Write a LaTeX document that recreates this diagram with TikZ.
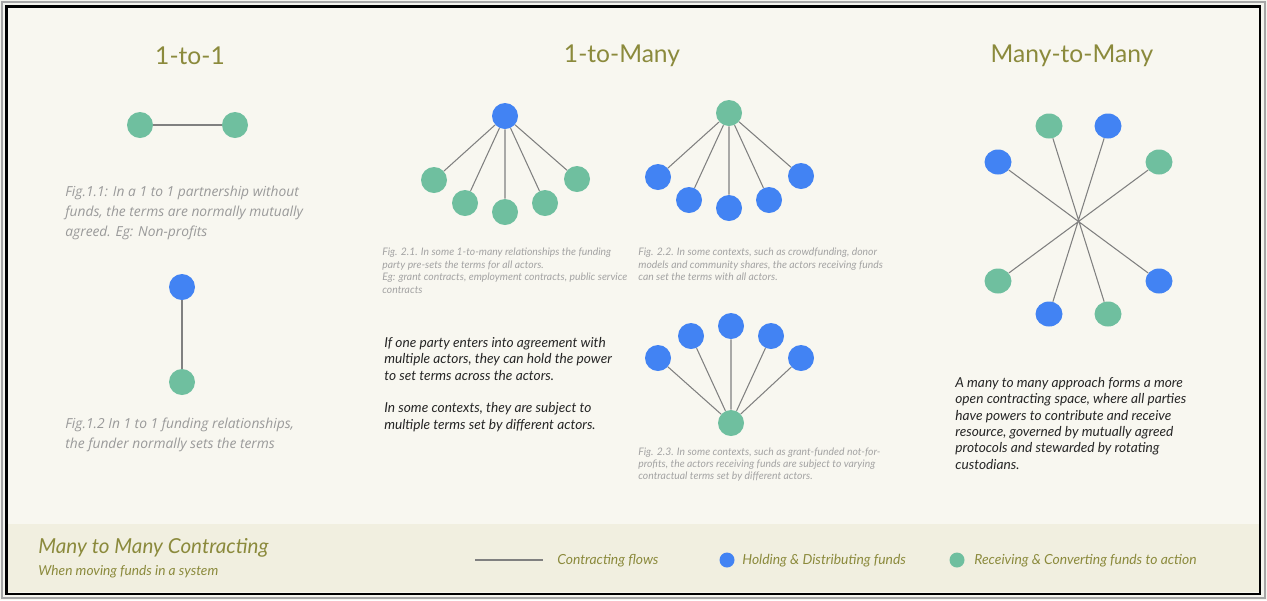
\documentclass[tikz,border=0pt]{standalone}
\usepackage{fontspec}
\setmainfont{Lato}
\newfontfamily\capfont{Open Sans}
\usetikzlibrary{positioning}
\usetikzlibrary{shapes.geometric}

\definecolor{pagecol}{HTML}{F4F4EE}
\definecolor{bgcol}{HTML}{F8F7F0}
\definecolor{bandcol}{HTML}{F1EFE0}
\definecolor{titlecol}{HTML}{8B8A3C}
\definecolor{fundblue}{HTML}{4283F3}
\definecolor{fundgreen}{HTML}{6FBF9F}
\definecolor{flowcol}{HTML}{808080}
\definecolor{capcol}{HTML}{9A9A9A}
\definecolor{notecol}{HTML}{A3A3A3}

\tikzset{
  hold/.style={circle, fill=fundblue, inner sep=0pt, minimum size=0.52cm},
  recv/.style={circle, fill=fundgreen, inner sep=0pt, minimum size=0.52cm},
  flow/.style={draw=flowcol, line width=0.6pt},
  title/.style={text=titlecol, font=\fontsize{14}{16}\selectfont},
  figcap/.style={text=capcol, inner sep=0pt, anchor=north west, align=left,
    font=\capfont\itshape\fontsize{7.85}{11.2}\selectfont},
  note/.style={text=notecol, inner sep=0pt, anchor=north west, align=left,
    font=\itshape\fontsize{5.9}{7.1}\selectfont},
  body/.style={text=black!85, inner sep=0pt, anchor=north west, align=left,
    font=\itshape\fontsize{7.8}{9.3}\selectfont},
  legend/.style={text=titlecol, inner sep=0pt, anchor=west,
    font=\itshape\fontsize{7.9}{9}\selectfont}
}

\begin{document}
\begin{tikzpicture}[x=0.02cm, y=-0.02cm]
  \useasboundingbox (0,0) rectangle (1267,600);
  % frame and background
  \fill[pagecol] (0,0) rectangle (1267,600);
  \draw[black!35, line width=0.6pt] (2,2) rectangle (1265,598);
  \fill[bgcol] (7,7) rectangle (1260,594);
  \fill[bandcol] (8,524) rectangle (1259,592);
  \draw[black, line width=1.6pt] (6.5,6.5) rectangle (1260,594);

  % titles
  \node[title] (t1) at (190,56) {1-to-1};
  \node[title] (t2) at (622,56) {1-to-Many};
  \node[title] (t3) at (1072,56) {Many-to-Many};

  % 1-to-1
  \node[recv] (pa) at (140,125) {};
  \node[recv] (pb) at (235,125) {};
  \draw[flow] (pa) -- (pb);
  \node[figcap] (cap11) at (65,186) {Fig.1.1: In a 1 to 1 partnership without\\funds, the terms are normally mutually\\agreed. Eg: Non-profits};

  \node[hold] (fa) at (182,287) {};
  \node[recv] (fb) at (182,382) {};
  \draw[flow] (fa) -- (fb);
  \node[figcap] (cap12) at (65,418) {Fig.1.2 In 1 to 1 funding relationships,\\the funder normally sets the terms};

  % 1-to-many, funder sets terms
  \node[hold] (ha) at (505,116) {};
  \node[recv] (ra1) at (434,180) {};
  \node[recv] (ra2) at (465,203) {};
  \node[recv] (ra3) at (505,212) {};
  \node[recv] (ra4) at (545,203) {};
  \node[recv] (ra5) at (577,179) {};
  \draw[flow] (ha) -- (ra1) (ha) -- (ra2) (ha) -- (ra3) (ha) -- (ra4) (ha) -- (ra5);
  \node[note] (cap21) at (382,248) {Fig. 2.1. In some 1-to-many relationships the funding\\party pre-sets the terms for all actors.\\Eg: grant contracts, employment contracts, public service\\contracts};

  % 1-to-many, receiver sets terms
  \node[recv] (rb) at (729,113) {};
  \node[hold] (hb1) at (658,177) {};
  \node[hold] (hb2) at (689,200) {};
  \node[hold] (hb3) at (729,208) {};
  \node[hold] (hb4) at (769,200) {};
  \node[hold] (hb5) at (801,176) {};
  \draw[flow] (rb) -- (hb1) (rb) -- (hb2) (rb) -- (hb3) (rb) -- (hb4) (rb) -- (hb5);
  \node[note] (cap22) at (638,248) {Fig. 2.2. In some contexts, such as crowdfunding, donor\\models and community shares, the actors receiving funds\\can set the terms with all actors.};

  % many funders to one receiver
  \node[recv] (rc) at (731,423) {};
  \node[hold] (hc1) at (658,358) {};
  \node[hold] (hc2) at (691,336) {};
  \node[hold] (hc3) at (731,326) {};
  \node[hold] (hc4) at (771,336) {};
  \node[hold] (hc5) at (801,358) {};
  \draw[flow] (rc) -- (hc1) (rc) -- (hc2) (rc) -- (hc3) (rc) -- (hc4) (rc) -- (hc5);
  \node[note] (cap23) at (638,447) {Fig. 2.3. In some contexts, such as grant-funded not-for-\\profits, the actors receiving funds are subject to varying\\contractual terms set by different actors.};

  \node[body] (txt2) at (384,337) {If one party enters into agreement with\\multiple actors, they can hold the power\\to set terms across the actors.\\[9.3pt]In some contexts, they are subject to\\multiple terms set by different actors.};

  % many-to-many
  \node[hold, ellipse, minimum width=0.54cm, minimum height=0.5cm] (m1) at (998,162) {};
  \node[recv, ellipse, minimum width=0.54cm, minimum height=0.5cm] (m2) at (1049,126) {};
  \node[hold, ellipse, minimum width=0.54cm, minimum height=0.5cm] (m3) at (1108,126) {};
  \node[recv, ellipse, minimum width=0.54cm, minimum height=0.5cm] (m4) at (1159,162) {};
  \node[hold, ellipse, minimum width=0.54cm, minimum height=0.5cm] (m5) at (1159,281) {};
  \node[recv, ellipse, minimum width=0.54cm, minimum height=0.5cm] (m6) at (1108,314) {};
  \node[hold, ellipse, minimum width=0.54cm, minimum height=0.5cm] (m7) at (1049,314) {};
  \node[recv, ellipse, minimum width=0.54cm, minimum height=0.5cm] (m8) at (998,281) {};
  \draw[flow] (m1) -- (m5) (m2) -- (m6) (m3) -- (m7) (m4) -- (m8);
  \node[body] (txt3) at (955,377) {A many to many approach forms a more\\open contracting space, where all parties\\have powers to contribute and receive\\resource, governed by mutually agreed\\protocols and stewarded by rotating\\custodians.};

  % legend band
  \node[text=titlecol, inner sep=0pt, anchor=west, font=\itshape\fontsize{11.75}{13}\selectfont] (band) at (38,548) {Many to Many Contracting};
  \node[text=titlecol, inner sep=0pt, anchor=west, font=\itshape\fontsize{7.8}{9}\selectfont] (sub) at (38,572) {When moving funds in a system};
  \coordinate (fl1) at (475,560);
  \coordinate (fl2) at (543,560);
  \draw[flow] (fl1) -- (fl2);
  \node[legend] (lg1) at (557,561) {Contracting flows};
  \node[hold, minimum size=0.3cm] (dot1) at (727,560) {};
  \node[legend] (lg2) at (742,561) {Holding \& Distributing funds};
  \node[recv, minimum size=0.3cm] (dot2) at (957,560) {};
  \node[legend] (lg3) at (974,561) {Receiving \& Converting funds to action};
\end{tikzpicture}
\end{document}
